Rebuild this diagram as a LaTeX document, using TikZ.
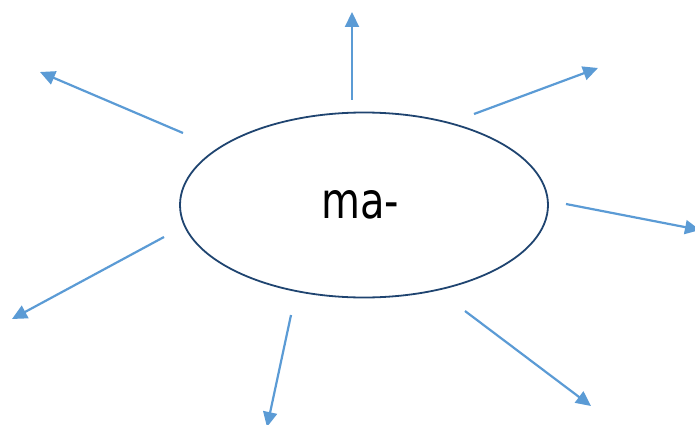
\documentclass[tikz,border=0pt]{standalone}
\usepackage{fontspec}
\setmainfont{DejaVu Sans}
\usepackage{tikz}
\usetikzlibrary{arrows.meta, shapes.geometric}
\definecolor{ringblue}{HTML}{1F4470}
\definecolor{rayblue}{HTML}{5B9BD5}

\tikzset{
  ring/.style={draw=ringblue, line width=1.8pt, ellipse, minimum width=368pt, minimum height=185pt, inner sep=0pt},
  ray/.style={draw=rayblue, line width=2.2pt, -{Triangle[length=15pt, width=14pt]}}
}

\begin{document}
\begin{tikzpicture}[x=1pt, y=-1pt]
  \useasboundingbox (0,0) rectangle (695,425);
  \node[ring] (prefix) at (364,205) {};
  \node[anchor=base] (label) at (360,218) {\scalebox{0.8}[1]{\fontsize{50}{60}\selectfont ma-}};
  % rays around the prefix
  \coordinate (s1) at (352,100); \coordinate (e1) at (352,12);
  \coordinate (s2) at (474,114); \coordinate (e2) at (598,68);
  \coordinate (s3) at (566,204); \coordinate (e3) at (700,230);
  \coordinate (s4) at (465,311); \coordinate (e4) at (591,406);
  \coordinate (s5) at (291,315); \coordinate (e5) at (267,427);
  \coordinate (s6) at (164,237); \coordinate (e6) at (12,319);
  \coordinate (s7) at (183,133); \coordinate (e7) at (40,72);
  \foreach \i in {1,...,7}
    \draw[ray] (s\i) -- (e\i);
\end{tikzpicture}
\end{document}
